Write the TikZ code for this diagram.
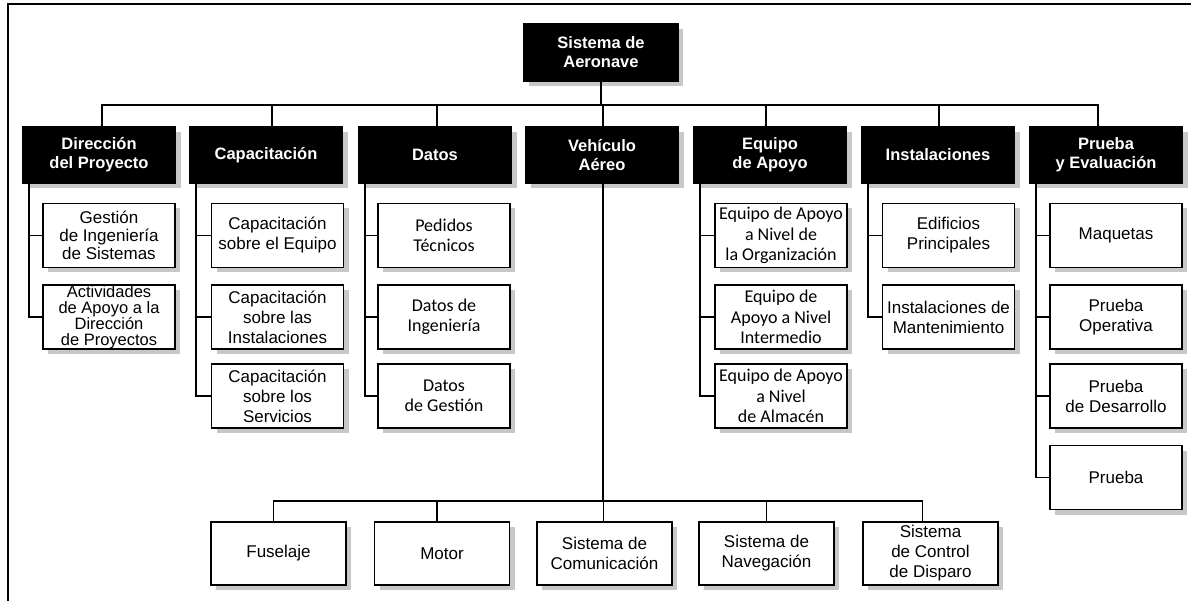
\documentclass[tikz,border=0pt]{standalone}
\usepackage{fontspec}
\setmainfont{Liberation Sans}
\newfontfamily\calfont{Carlito}
\usetikzlibrary{shadows}
\tikzset{
  boxbase/.style={rectangle, inner sep=0pt, align=center, line width=1.6pt,
    drop shadow={shadow xshift=5pt, shadow yshift=-5pt, fill=black!22, opacity=1}},
  hdbox/.style={boxbase, draw=black, fill=black, text=white,
    font=\fontsize{16.5}{19}\selectfont\bfseries, minimum width=153pt, minimum height=56pt},
  chbox/.style={boxbase, draw=black, fill=white,
    font=\fontsize{17}{20}\selectfont, minimum width=132pt, minimum height=64pt},
  chcal/.style={chbox, font=\calfont\fontsize{18}{20.5}\selectfont},
  btbox/.style={chbox, minimum width=135pt, minimum height=63pt},
  link/.style={line width=1.6pt},
}
\begin{document}
\begin{tikzpicture}[x=1pt,y=-1pt]
\useasboundingbox (0,0) rectangle (1191,601);
% outer frame
\draw[line width=1.5pt] (8,601) -- (8,4) -- (1191,4);

% root
\node[hdbox, minimum width=154pt, minimum height=57pt] (root) at (601,52.5) {Sistema de\\Aeronave};

% first level
\node[hdbox] (dir)  at (99,155)   {Dirección\\del Proyecto};
\node[hdbox] (cap)  at (266,155)  {Capacitación};
\node[hdbox] (dat)  at (435,155)  {Datos};
\node[hdbox] (veh)  at (602,155)  {Vehículo\\Aéreo};
\node[hdbox] (equ)  at (770,155)  {Equipo\\de Apoyo};
\node[hdbox] (ins)  at (938,155)  {Instalaciones};
\node[hdbox] (pru)  at (1106,155) {Prueba\\y Evaluación};

\draw[link] (root.south) -- ++(0,23) coordinate (hub);
\foreach \n/\dx in {dir/3,cap/6,dat/2,veh/1,equ/-4,ins/1,pru/-8}
  \draw[link] (hub) -| ([xshift=\dx pt]\n.north);

% Dirección del Proyecto
\node[chbox, font=\fontsize{17}{18}\selectfont] (dir1) at (109,235.5) {Gestión\\de Ingeniería\\de Sistemas};
\node[chbox, font=\fontsize{16.5}{16}\selectfont] (dir2) at (109,317) {Actividades\\de Apoyo a la\\Dirección\\de Proyectos};

% Capacitación
\node[chbox] (cap1) at (277.5,235.5) {Capacitación\\sobre el Equipo};
\node[chbox] (cap2) at (277.5,317)   {Capacitación\\sobre las\\Instalaciones};
\node[chbox] (cap3) at (277.5,396)   {Capacitación\\sobre los\\Servicios};

% Datos
\node[chcal] (dat1) at (444,235.5) {Pedidos\\Técnicos};
\node[chcal] (dat2) at (444,317)   {Datos de\\Ingeniería};
\node[chcal] (dat3) at (444,396)   {Datos\\de Gestión};

% Equipo de Apoyo
\node[chcal] (equ1) at (781,235.5) {Equipo de Apoyo\\a Nivel de\\la Organización};
\node[chcal] (equ2) at (781,317)   {Equipo de\\Apoyo a Nivel\\Intermedio};
\node[chcal] (equ3) at (781,396)   {Equipo de Apoyo\\a Nivel\\de Almacén};

% Instalaciones
\node[chbox] (ins1) at (948.5,235.5) {Edificios\\Principales};
\node[chbox] (ins2) at (948.5,317)   {Instalaciones de\\Mantenimiento};

% Prueba y Evaluación
\node[chbox] (pru1) at (1116,235.5) {Maquetas};
\node[chbox] (pru2) at (1116,317)   {Prueba\\Operativa};
\node[chbox] (pru3) at (1116,396)   {Prueba\\de Desarrollo};
\node[chbox] (pru4) at (1116,477.5) {Prueba};

% side connectors
\foreach \p/\cs in {dir/{dir1,dir2}, cap/{cap1,cap2,cap3}, dat/{dat1,dat2,dat3},
                     equ/{equ1,equ2,equ3}, ins/{ins1,ins2}, pru/{pru1,pru2,pru3,pru4}}{
  \foreach \c in \cs \draw[link] ([xshift=7pt]\p.south west) |- (\c.west);
}

% Vehículo Aéreo breakdown
\node[btbox] (fus) at (278.5,553.5) {Fuselaje};
\node[btbox] (mot) at (442,553.5)   {Motor};
\node[btbox] (com) at (604.5,553.5) {Sistema de\\Comunicación};
\node[btbox] (nav) at (766.5,553.5) {Sistema de\\Navegación};
\node[btbox] (dis) at (930.5,553.5) {Sistema\\de Control\\de Disparo};

\draw[link] ([xshift=1pt]veh.south) -- ([xshift=1pt]veh.south |- 0,501) coordinate (vbus);
\foreach \n/\dx in {fus/-5,mot/-5,com/-1,nav/0,dis/-8}
  \draw[link] (vbus) -| ([xshift=\dx pt]\n.north);
\end{tikzpicture}
\end{document}
